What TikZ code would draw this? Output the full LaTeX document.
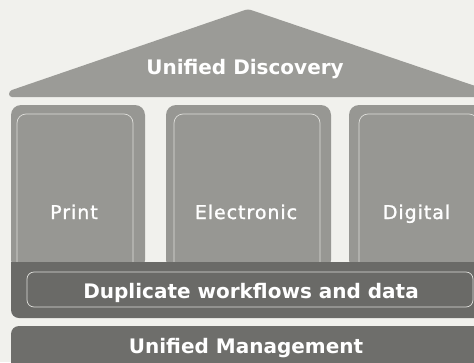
\documentclass[tikz,border=0pt]{standalone}
\usepackage{fontspec}
\newfontfamily\hdfont{DejaVu Sans}[BoldFont={DejaVu Sans Bold}]
\newfontfamily\plfont{DejaVu Sans}[LetterSpace=5,FakeBold=1.3]
\definecolor{bgc}{RGB}{241,241,237}
\definecolor{roofc}{RGB}{155,155,151}
\definecolor{pillc}{RGB}{151,151,147}
\definecolor{bandc}{RGB}{106,106,103}
\definecolor{basec}{RGB}{110,110,107}
\definecolor{linec}{RGB}{222,222,218}
\tikzset{
  boldlbl/.style={text=white,font=\hdfont\bfseries\fontsize{20}{24}\selectfont,inner sep=0pt,anchor=base},
  pillarlbl/.style={text=white,font=\plfont\fontsize{19}{23}\selectfont,inner sep=0pt,anchor=base},
  innerline/.style={draw=linec,line width=0.7pt,rounded corners=9pt},
}
\begin{document}
\begin{tikzpicture}[x=1pt,y=-1pt]
\fill[bgc] (0,0) rectangle (474,362);
\useasboundingbox (0,0) rectangle (474,362);
% roof
\fill[roofc,rounded corners=3pt] (248,9) -- (9,91) -- (9,97) -- (490,97) -- (490,91) -- cycle;
\node[boldlbl] (disc) at (245,74) {Unified Discovery};
% pillars
\fill[pillc,rounded corners=10pt] (11,270) -- (11,105) -- (145,105) -- (145,270) -- cycle;
\fill[pillc,rounded corners=10pt] (166,270) -- (166,105) -- (331,105) -- (331,270) -- cycle;
\fill[pillc,rounded corners=10pt] (349,270) -- (349,105) -- (495,105) -- (495,270) -- cycle;
\draw[innerline] (17,263) -- (17,114) -- (133,114) -- (133,263);
\draw[innerline] (174,263) -- (174,114) -- (320,114) -- (320,263);
\draw[innerline] (359,263) -- (359,114) -- (478,114) -- (478,263);
\node[pillarlbl] (print) at (74,219) {Print};
\node[pillarlbl] (elec) at (246,219) {Electronic};
\node[pillarlbl] (digi) at (416.5,219) {Digital};
% duplicate band
\fill[bandc] (495,262) -- (11,262) {[rounded corners=8pt] -- (11,318) -- (495,318)} -- cycle;
\draw[draw=linec,line width=0.7pt,rounded corners=7pt] (27,272) rectangle (473,307);
\node[boldlbl] (dup) at (251,298) {Duplicate workflows and data};
\fill[basec,rounded corners=8pt] (11,370) -- (11,326) -- (495,326) -- (495,370) -- cycle;
\node[boldlbl] (mgmt) at (246,353) {Unified Management};
\end{tikzpicture}
\end{document}
